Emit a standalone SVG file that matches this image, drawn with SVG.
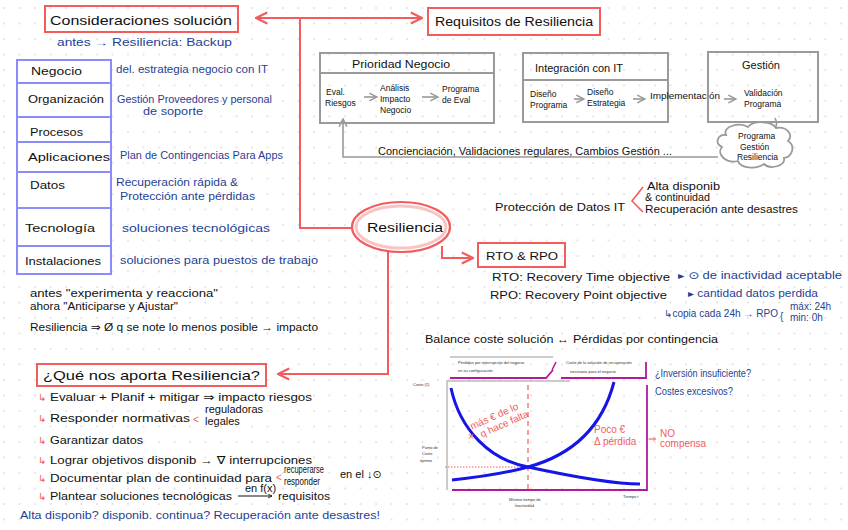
<svg xmlns="http://www.w3.org/2000/svg" width="848" height="530" viewBox="0 0 848 530">
<defs>
<pattern id="dots" width="15.5" height="15.5" patternUnits="userSpaceOnUse" x="2" y="6">
<circle cx="2" cy="2" r="0.8" fill="#c9c9c9"/>
</pattern>
<marker id="ar" viewBox="0 0 10 10" refX="9" refY="5" markerWidth="7" markerHeight="7" orient="auto-start-reverse"><path d="M1,1 L9,5 L1,9" fill="none" stroke="#f25c5c" stroke-width="1.6"/></marker>
<marker id="ag" viewBox="0 0 10 10" refX="9" refY="5" markerWidth="6" markerHeight="6" orient="auto-start-reverse"><path d="M1,1 L9,5 L1,9" fill="none" stroke="#999" stroke-width="1.6"/></marker>
<marker id="ak" viewBox="0 0 10 10" refX="9" refY="5" markerWidth="5" markerHeight="5" orient="auto"><path d="M1,1 L9,5 L1,9" fill="none" stroke="#111" stroke-width="1.6"/></marker>
<style>
text{font-family:"Liberation Sans","DejaVu Sans",sans-serif;}
.k{fill:#111;font-size:11px;}
.kt{fill:#111;font-size:13px;}
.b{fill:#1f3f96;font-size:10px;}
.r{fill:#f25c5c;font-size:10px;}
.s{fill:#333;font-size:4px;}
.m{fill:#111;font-size:8.5px;}
.rb{fill:none;stroke:#f25c5c;stroke-width:2;}
.gb{fill:none;stroke:#9a9a9a;stroke-width:2;}
.tb{fill:#fff;stroke:#8c8cf8;stroke-width:2;}
.rl{fill:none;stroke:#f25c5c;stroke-width:2;}
.gl{fill:none;stroke:#999;stroke-width:1.6;}
</style>
</defs>
<rect width="848" height="530" fill="#fff"/>
<rect width="848" height="530" fill="url(#dots)"/>

<g id="connectors">
<path class="rl" d="M256,18 L422,18" marker-start="url(#ar)" marker-end="url(#ar)"/>
<path class="rl" d="M300,18 L300,228 L352,228"/>
<path class="rl" d="M388,250 L388,374 L278,374" marker-end="url(#ar)"/>
<path class="rl" d="M442,246 L442,258 L473,258" marker-end="url(#ar)"/>
<path class="gl" d="M718,157 L343,157 L343,119" marker-end="url(#ag)"/>
<path class="gl" d="M775,118 C780,128 772,132 762,130" marker-end="url(#ag)"/>
</g>

<g id="consideraciones">
<rect class="rb" x="45" y="6" width="193" height="26"/>
<text class="kt" x="50" y="25" textLength="182" lengthAdjust="spacingAndGlyphs">Consideraciones solución</text>
<text class="b" x="57" y="46" textLength="175" lengthAdjust="spacingAndGlyphs">antes → Resiliencia: Backup</text>
</g>

<g id="tabla">
<rect class="tb" x="17" y="60" width="94" height="23"/>
<rect class="tb" x="17" y="83" width="94" height="34"/>
<rect class="tb" x="17" y="117" width="94" height="25"/>
<rect class="tb" x="17" y="142" width="94" height="30"/>
<rect class="tb" x="17" y="172" width="94" height="36"/>
<rect class="tb" x="17" y="208" width="94" height="38"/>
<rect class="tb" x="17" y="246" width="94" height="28"/>
<text class="k" x="31" y="75" textLength="51" lengthAdjust="spacingAndGlyphs">Negocio</text>
<text class="k" x="28" y="103" textLength="76" lengthAdjust="spacingAndGlyphs">Organización</text>
<text class="k" x="30" y="136" textLength="53" lengthAdjust="spacingAndGlyphs">Procesos</text>
<text class="k" x="28" y="161" textLength="82" lengthAdjust="spacingAndGlyphs">Aplicaciones</text>
<text class="k" x="30" y="189" textLength="35" lengthAdjust="spacingAndGlyphs">Datos</text>
<text class="k" x="25" y="232" textLength="70" lengthAdjust="spacingAndGlyphs">Tecnología</text>
<text class="k" x="25" y="265" textLength="76" lengthAdjust="spacingAndGlyphs">Instalaciones</text>
<text class="b" x="116" y="73" textLength="152" lengthAdjust="spacingAndGlyphs">del. estrategia negocio con IT</text>
<text class="b" x="117" y="103" textLength="155" lengthAdjust="spacingAndGlyphs">Gestión Proveedores y personal</text>
<text class="b" x="143" y="115" textLength="60" lengthAdjust="spacingAndGlyphs">de soporte</text>
<text class="b" x="120" y="159" textLength="163" lengthAdjust="spacingAndGlyphs">Plan de Contingencias Para Apps</text>
<text class="b" x="116" y="186" textLength="122" lengthAdjust="spacingAndGlyphs">Recuperación rápida &amp;</text>
<text class="b" x="120" y="200" textLength="135" lengthAdjust="spacingAndGlyphs">Protección ante pérdidas</text>
<text class="b" x="122" y="232" textLength="148" lengthAdjust="spacingAndGlyphs">soluciones tecnológicas</text>
<text class="b" x="120" y="264" textLength="198" lengthAdjust="spacingAndGlyphs">soluciones para puestos de trabajo</text>
</g>

<g id="notas">
<text class="k" x="30" y="297" font-size="10" textLength="188" lengthAdjust="spacingAndGlyphs">antes "experimenta y reacciona"</text>
<text class="k" x="30" y="310" font-size="10" textLength="148" lengthAdjust="spacingAndGlyphs">ahora "Anticiparse y Ajustar"</text>
<text class="k" x="30" y="331" font-size="10" textLength="288" lengthAdjust="spacingAndGlyphs">Resiliencia ⇒ Ø q se note lo menos posible → impacto</text>
</g>

<g id="requisitos">
<rect class="rb" x="428" y="8" width="172" height="27"/>
<text class="kt" x="435" y="26" textLength="158" lengthAdjust="spacingAndGlyphs">Requisitos de Resiliencia</text>
</g>

<g id="prioridad">
<rect class="gb" x="320" y="53" width="174" height="70"/>
<line class="gb" x1="320" y1="73" x2="494" y2="73"/>
<text class="k" x="352" y="68" textLength="98" lengthAdjust="spacingAndGlyphs">Prioridad Negocio</text>
<text class="m" x="326" y="95">Eval.</text>
<text class="m" x="325" y="106">Riesgos</text>
<path class="gl" d="M364,97 L377,97" marker-end="url(#ag)"/>
<text class="m" x="380" y="91">Análisis</text>
<text class="m" x="380" y="102">Impacto</text>
<text class="m" x="380" y="113">Negocio</text>
<path class="gl" d="M422,97 L438,97" marker-end="url(#ag)"/>
<text class="m" x="442" y="92">Programa</text>
<text class="m" x="442" y="103">de Eval</text>
</g>

<g id="integracion">
<rect class="gb" x="523" y="53" width="145" height="69"/>
<line class="gb" x1="523" y1="80" x2="668" y2="80"/>
<text class="k" x="535" y="72" textLength="88" lengthAdjust="spacingAndGlyphs">Integración con IT</text>
<text class="m" x="530" y="97">Diseño</text>
<text class="m" x="530" y="108">Programa</text>
<path class="gl" d="M574,99 L584,99" marker-end="url(#ag)"/>
<text class="m" x="587" y="95">Diseño</text>
<text class="m" x="587" y="106">Estrategia</text>
<path class="gl" d="M633,99 L645,99" marker-end="url(#ag)"/>
<text class="m" x="650" y="99" textLength="70" lengthAdjust="spacingAndGlyphs">Implementación</text>
<path class="gl" d="M724,99 L736,99" marker-end="url(#ag)"/>
</g>

<g id="gestion">
<rect class="gb" x="708" y="52" width="110" height="70"/>
<text class="k" x="742" y="69">Gestión</text>
<text class="m" x="744" y="96">Validación</text>
<text class="m" x="744" y="107">Programa</text>
</g>

<g id="cloud">
<path d="M726,135 C722,126 740,122 748,127 C754,120 772,121 776,128 C786,126 794,134 788,141 C796,146 792,157 784,158 C786,166 770,170 764,164 C756,170 740,168 738,161 C726,164 716,154 722,147 C714,143 718,134 726,135 Z" fill="#fff" stroke="#9a9a9a" stroke-width="1.8"/>
<text class="m" x="738" y="139">Programa</text>
<text class="m" x="740" y="149.5">Gestión</text>
<text class="m" x="737" y="160">Resiliencia</text>
</g>

<text class="k" x="378" y="155" font-size="9.5" textLength="294" lengthAdjust="spacingAndGlyphs">Concienciación, Validaciones regulares, Cambios Gestión ...</text>

<g id="proteccion">
<text class="k" x="495" y="211" font-size="10" textLength="130" lengthAdjust="spacingAndGlyphs">Protección de Datos IT</text>
<path d="M643,187 L632,201 L643,212" fill="none" stroke="#f25c5c" stroke-width="1.6"/>
<text class="k" x="647" y="190" font-size="10" textLength="73" lengthAdjust="spacingAndGlyphs">Alta disponib</text>
<text class="k" x="645" y="201" font-size="9.5" textLength="65" lengthAdjust="spacingAndGlyphs">&amp; continuidad</text>
<text class="k" x="645" y="212.5" font-size="10" textLength="153" lengthAdjust="spacingAndGlyphs">Recuperación ante desastres</text>
</g>

<g id="resiliencia">
<ellipse cx="401" cy="227" rx="49" ry="25" fill="#fff" stroke="#f25c5c" stroke-width="2.2"/>
<ellipse cx="401" cy="227" rx="45" ry="21" fill="none" stroke="#f9c4c4" stroke-width="3"/>
<text class="kt" x="367" y="232" textLength="76" lengthAdjust="spacingAndGlyphs">Resiliencia</text>
</g>

<g id="rto">
<rect class="rb" x="478" y="243" width="87" height="24"/>
<text class="k" x="486" y="260" textLength="72" lengthAdjust="spacingAndGlyphs">RTO &amp; RPO</text>
<text class="k" x="492" y="281" font-size="10.5" textLength="178" lengthAdjust="spacingAndGlyphs">RTO: Recovery Time objective</text>
<text class="b" x="678" y="279" textLength="164" lengthAdjust="spacingAndGlyphs">▸ ⊙ de inactividad aceptable</text>
<text class="k" x="490" y="299" font-size="10.5" textLength="177" lengthAdjust="spacingAndGlyphs">RPO: Recovery Point objective</text>
<text class="b" x="688" y="297" textLength="130" lengthAdjust="spacingAndGlyphs">▸ cantidad datos perdida</text>
<text class="b" x="664" y="317" textLength="114" lengthAdjust="spacingAndGlyphs">↳copia cada 24h → RPO</text>
<text class="b" x="780" y="320" font-size="15">{</text>
<text class="b" x="790" y="310" font-size="7">máx: 24h</text>
<text class="b" x="790" y="321" font-size="7">min: 0h</text>
<text class="k" x="425" y="343" font-size="10" textLength="293" lengthAdjust="spacingAndGlyphs">Balance coste solución ↔ Pérdidas por contingencia</text>
</g>

<g id="grafico">
<path d="M450,357 L553,357" stroke="#bbb" stroke-width="1.5"/>
<path d="M450,378 L546,378 L553,370" fill="none" stroke="#b5179e" stroke-width="1.8"/>
<path d="M556,362 L552,370" stroke="#b5179e" stroke-width="1.5"/>
<path d="M561,378 L646,378 L646,362" fill="none" stroke="#b5179e" stroke-width="1.8"/>
<text class="s" x="458" y="364">Pérdidas por interrupción del negocio</text>
<text class="s" x="458" y="372">en su configuración</text>
<text class="s" x="566" y="364">Coste de la solución de recuperación</text>
<text class="s" x="570" y="373">necesaria para el negocio</text>
<path d="M447,490 L447,381 L570,381" fill="none" stroke="#bbb" stroke-width="1.5"/>
<path d="M647,385 L647,490 L452,490" fill="none" stroke="#b5179e" stroke-width="1.8"/>
<text class="s" x="413" y="386">Coste (€)</text>
<text class="s" x="422" y="449">Punto de</text>
<text class="s" x="422" y="455">Coste</text>
<text class="s" x="420" y="462">óptimo</text>
<text class="s" x="509" y="501">Mínimo tiempo de</text>
<text class="s" x="515" y="507">inactividad</text>
<text class="s" x="623" y="498">Tiempo t</text>
<path d="M528,385 L528,489" stroke="#f25c5c" stroke-width="1.2" stroke-dasharray="5,4"/>
<path d="M445,467 L528,467" stroke="#f25c5c" stroke-width="1" stroke-dasharray="1.5,1.5"/>
<path d="M451,388 C460,430 490,460 528,467 C565,475 610,484 640,484" fill="none" stroke="#1515e8" stroke-width="3"/>
<path d="M452,480 C490,476 510,472 528,467 C572,455 602,428 614,382" fill="none" stroke="#1515e8" stroke-width="3"/>
<g transform="rotate(-24 495 425)">
<text class="r" x="472" y="420" font-size="9">más € de lo</text>
<text class="r" x="478" y="431" font-size="9">q hace falta</text>
</g>
<text class="r" x="468" y="440" font-size="11">×</text>
<text class="r" x="594" y="433" font-size="10">Poco €</text>
<text class="r" x="594" y="445" font-size="10">Δ pérdida</text>
<text class="r" x="648" y="442" font-size="10">⇒</text>
<text class="r" x="660" y="437" font-size="8">NO</text>
<text class="r" x="660" y="447" font-size="8">compensa</text>
<text class="b" x="655" y="377" textLength="96" lengthAdjust="spacingAndGlyphs">¿Inversión insuficiente?</text>
<text class="b" x="655" y="395" textLength="78" lengthAdjust="spacingAndGlyphs">Costes excesivos?</text>
</g>

<g id="aporta">
<rect class="rb" x="37" y="364" width="229" height="22"/>
<text class="kt" x="43" y="380" textLength="217" lengthAdjust="spacingAndGlyphs">¿Qué nos aporta Resiliencia?</text>
<text class="r" x="38" y="401" font-size="11">↳</text>
<text class="k" x="50" y="401" font-size="10.5" textLength="262" lengthAdjust="spacingAndGlyphs">Evaluar + Planif + mitigar ⇒ impacto riesgos</text>
<text class="r" x="38" y="422" font-size="11">↳</text>
<text class="k" x="50" y="422" font-size="10.5" textLength="140" lengthAdjust="spacingAndGlyphs">Responder normativas</text>
<text class="r" x="193" y="423" font-size="12">&lt;</text>
<text class="k" x="205" y="413" font-size="8">reguladoras</text>
<text class="k" x="205" y="425" font-size="8">legales</text>
<text class="r" x="38" y="444" font-size="11">↳</text>
<text class="k" x="50" y="444" font-size="10.5" textLength="93" lengthAdjust="spacingAndGlyphs">Garantizar datos</text>
<text class="r" x="38" y="464" font-size="11">↳</text>
<text class="k" x="50" y="464" font-size="10.5" textLength="262" lengthAdjust="spacingAndGlyphs">Lograr objetivos disponib → ∇ interrupciones</text>
<text class="r" x="38" y="482" font-size="11">↳</text>
<text class="k" x="50" y="482" font-size="10" textLength="222" lengthAdjust="spacingAndGlyphs">Documentar plan de continuidad para</text>
<text class="r" x="276" y="481" font-size="10">&lt;</text>
<text class="k" x="284" y="473" font-size="7" textLength="40" lengthAdjust="spacingAndGlyphs">recuperarse</text>
<text class="k" x="284" y="485" font-size="7" textLength="36" lengthAdjust="spacingAndGlyphs">responder</text>
<text class="k" x="340" y="478" font-size="9">en el ↓⊙</text>
<text class="r" x="38" y="500" font-size="11">↳</text>
<text class="k" x="50" y="500" font-size="10" textLength="182" lengthAdjust="spacingAndGlyphs">Plantear soluciones tecnológicas</text>
<text class="k" x="245" y="492" font-size="6">en f(x)</text>
<path d="M238,496 L272,496" stroke="#111" stroke-width="1" marker-end="url(#ak)"/>
<text class="k" x="278" y="500" font-size="10" textLength="52" lengthAdjust="spacingAndGlyphs">requisitos</text>
<text class="b" x="20" y="519" font-size="10.5" textLength="360" lengthAdjust="spacingAndGlyphs">Alta disponib? disponib. continua? Recuperación ante desastres!</text>
</g>
</svg>
